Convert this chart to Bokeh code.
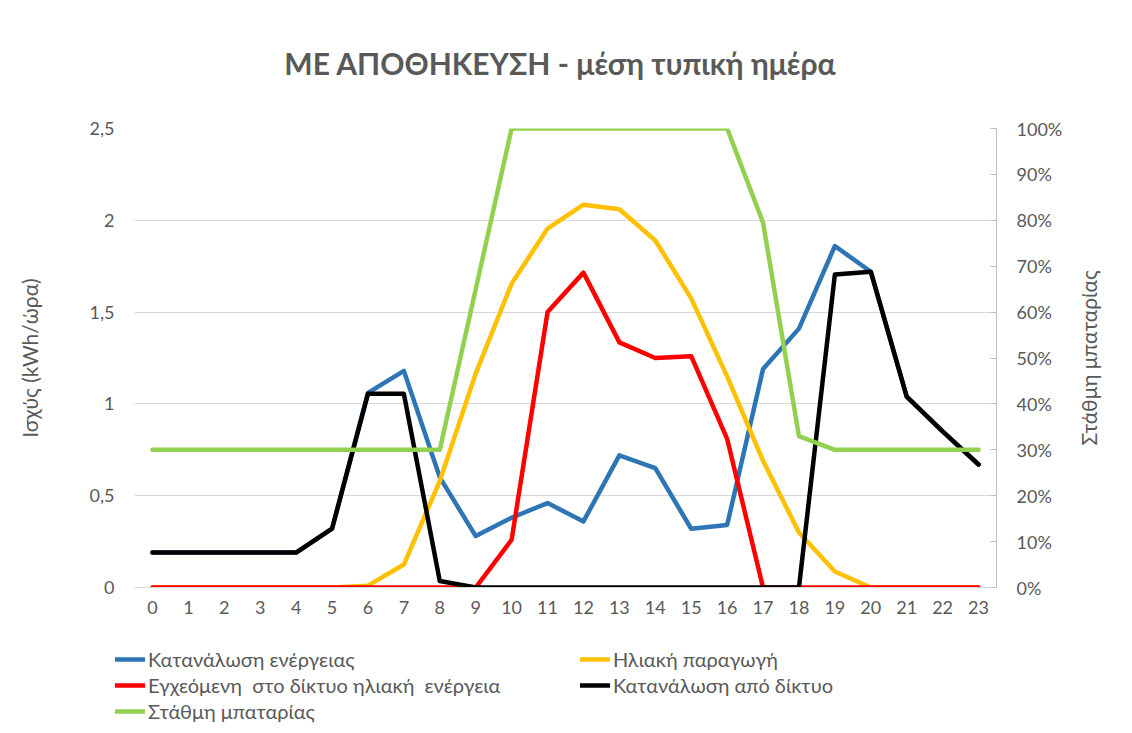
import math
from bokeh.plotting import figure
from bokeh.layouts import column, row
from bokeh.models import (Range1d, LinearAxis, FixedTicker, CustomJSTickFormatter,
                          NumeralTickFormatter, Legend, LegendItem, Label)
from bokeh.embed import file_html
from bokeh.resources import INLINE

hours = list(range(24))
consumption = [0.19, 0.19, 0.19, 0.19, 0.19, 0.32, 1.06, 1.18, 0.60, 0.28, 0.38, 0.46,
               0.36, 0.72, 0.65, 0.32, 0.34, 1.19, 1.41, 1.86, 1.72, 1.04, 0.85, 0.67]
solar = [0, 0, 0, 0, 0, 0, 0.01, 0.125, 0.58, 1.165, 1.655, 1.955,
         2.085, 2.06, 1.89, 1.575, 1.15, 0.69, 0.30, 0.087, 0, 0, 0, 0]
grid_injection = [0, 0, 0, 0, 0, 0, 0, 0, 0, 0, 0.26, 1.50,
                  1.715, 1.335, 1.25, 1.26, 0.81, 0, 0, 0, 0, 0, 0, 0]
grid_consumption = [0.19, 0.19, 0.19, 0.19, 0.19, 0.32, 1.055, 1.055, 0.035, 0, 0, 0,
                    0, 0, 0, 0, 0, 0, 0, 1.705, 1.72, 1.04, 0.85, 0.67]
battery = [0.30, 0.30, 0.30, 0.30, 0.30, 0.30, 0.30, 0.30, 0.30, 0.65, 1.0, 1.0,
           1.0, 1.0, 1.0, 1.0, 1.0, 0.795, 0.33, 0.30, 0.30, 0.30, 0.30, 0.30]

names = ["Κατανάλωση ενέργειας", "Ηλιακή παραγωγή",
         "Εγχεόμενη  στο δίκτυο ηλιακή  ενέργεια", "Κατανάλωση από δίκτυο",
         "Στάθμη μπαταρίας"]
colors = ["#2E75B6", "#FFC000", "#FF0000", "#000000", "#92D050"]
title_text = "ΜΕ ΑΠΟΘΗΚΕΥΣΗ - μέση τυπική ημέρα"
left_title = "Ισχύς (kWh/ώρα)"
right_title = "Στάθμη μπαταρίας"

FONT = "Lato"
GRAY = "#595959"


def blank(width, height, xr, yr, **kw):
    f = figure(width=width, height=height, output_backend="svg", toolbar_location=None,
               x_range=Range1d(*xr), y_range=Range1d(*yr),
               x_axis_type=None, y_axis_type=None,
               min_border_left=0, min_border_right=0, **kw)
    f.outline_line_color = None
    f.xgrid.visible = False
    f.ygrid.visible = False
    return f


# title strip
tf = blank(1124, 100, (0, 1124), (0, 100), min_border_top=0, min_border_bottom=0)
tf.add_layout(Label(x=560, y=38, text=title_text, text_align="center",
                    text_baseline="middle", text_font=FONT, text_font_size="30px",
                    text_font_style="bold", text_color=GRAY))

# main chart
p = figure(frame_width=862, frame_height=459, output_backend="svg", toolbar_location=None,
           x_range=Range1d(-0.5, 23.5), y_range=Range1d(0, 2.5),
           min_border_left=134, min_border_right=76, min_border_top=28,
           min_border_bottom=40)
p.extra_y_ranges = {"pct": Range1d(0, 1)}
p.outline_line_color = None

xa = p.xaxis[0]
xa.ticker = FixedTicker(ticks=hours)
xa.axis_line_color = "#D9D9D9"
xa.major_tick_line_color = None
xa.major_tick_out = 0
xa.minor_tick_line_color = None
xa.major_label_text_font = FONT
xa.major_label_text_font_size = "18px"
xa.major_label_text_color = GRAY
xa.major_label_standoff = 13
p.xgrid.visible = False

ya = p.yaxis[0]
ya.ticker = FixedTicker(ticks=[0, 0.5, 1, 1.5, 2, 2.5])
ya.formatter = CustomJSTickFormatter(code="return tick.toString().replace('.', ',');")
ya.axis_line_color = None
ya.major_tick_line_color = None
ya.major_tick_out = 0
ya.minor_tick_line_color = None
ya.major_label_text_font = FONT
ya.major_label_text_font_size = "18px"
ya.major_label_text_color = GRAY
ya.major_label_standoff = 20
ya.axis_label = left_title
ya.axis_label_text_font = FONT
ya.axis_label_text_font_size = "21px"
ya.axis_label_text_font_style = "normal"
ya.axis_label_text_color = GRAY
ya.axis_label_standoff = 45
p.ygrid.grid_line_color = "#D9D9D9"
p.ygrid.grid_line_width = 1

ra = LinearAxis(y_range_name="pct", ticker=FixedTicker(ticks=[i / 10 for i in range(11)]),
                formatter=NumeralTickFormatter(format="0%"))
ra.axis_line_color = "#BFBFBF"
ra.major_tick_line_color = "#BFBFBF"
ra.major_tick_in = 6
ra.major_tick_out = 0
ra.minor_tick_line_color = None
ra.major_label_text_font = FONT
ra.major_label_text_font_size = "18px"
ra.major_label_text_color = GRAY
ra.major_label_standoff = 20
p.add_layout(ra, "right")

series = [consumption, solar, grid_injection, grid_consumption, battery]
for i, (vals, col) in enumerate(zip(series, colors)):
    kw = {"y_range_name": "pct"} if i == 4 else {}
    p.line(hours, vals, line_color=col, line_width=4.5, line_join="round",
           line_cap="round", **kw)

# right axis title strip
rf = blank(52, 527, (0, 52), (0, 1), min_border_top=28, min_border_bottom=40)
rf.add_layout(Label(x=16, y=0.5, text=right_title, angle=math.pi / 2,
                    text_align="center", text_baseline="middle", text_font=FONT,
                    text_font_size="21px", text_color=GRAY))

# legend strip
lf = blank(1124, 100, (0, 1), (0, 1), min_border_top=0, min_border_bottom=0)
nan = float("nan")
dummies = [lf.line([nan], [nan], line_color=c, line_width=4.5, line_cap="round")
           for c in colors]


def make_legend(idx, loc):
    lg = Legend(items=[LegendItem(label=names[i], renderers=[dummies[i]]) for i in idx],
                location=loc, orientation="vertical")
    lg.border_line_color = None
    lg.background_fill_alpha = 0
    lg.padding = 0
    lg.margin = 0
    lg.spacing = 2
    lg.glyph_width = 30
    lg.glyph_height = 20
    lg.label_height = 20
    lg.label_standoff = 3
    lg.label_text_font = FONT
    lg.label_text_font_size = "20px"
    lg.label_text_color = GRAY
    return lg


lf.add_layout(make_legend([0, 2, 4], (115, 4)), "center")
lf.add_layout(make_legend([1, 3], (580, 30)), "center")

layout = column(row(tf), row(p, rf), row(lf), spacing=0)
open("out.html", "w").write(file_html(layout, INLINE))
